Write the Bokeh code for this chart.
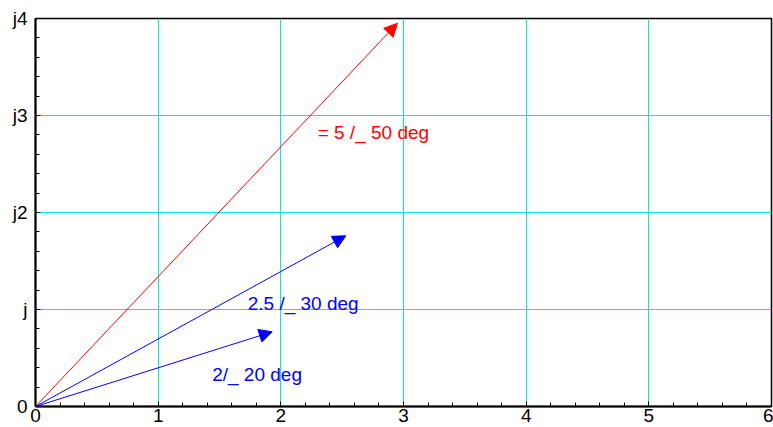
from bokeh.plotting import figure
from bokeh.models import (Range1d, SingleIntervalTicker, Arrow, NormalHead,
                          ColumnDataSource, Label)
from bokeh.embed import file_html
from bokeh.resources import INLINE

tip_re = [2.95, 2.53, 1.93]
tip_im = [3.95, 1.76, 0.77]
colors = ["#ff0000", "#0000ff", "#0000ff"]

label_texts = ["= 5 /_ 50 deg", "2.5 /_ 30 deg", "2/_ 20 deg"]
label_x = [2.30, 1.73, 1.44]
label_y = [2.82, 1.06, 0.33]

x_ticks = [0, 1, 2, 3, 4, 5, 6]
y_ticks = [0, 1, 2, 3, 4]
y_tick_labels = ["0", "j", "j2", "j3", "j4"]

FONT = "Liberation Sans"

p = figure(width=773, height=427, output_backend="svg", toolbar_location=None,
           x_range=Range1d(0, 6), y_range=Range1d(0, 4),
           min_border_left=35, min_border_right=2, min_border_top=18,
           min_border_bottom=21)
p.background_fill_color = "white"
p.border_fill_color = "white"
p.outline_line_color = "black"
p.outline_line_width = 1.5

for ax in (p.xaxis[0], p.yaxis[0]):
    ax.ticker = SingleIntervalTicker(interval=1, num_minor_ticks=5)
    ax.axis_line_color = "black"
    ax.axis_line_width = 2
    ax.major_tick_in = 5
    ax.major_tick_out = 0
    ax.minor_tick_in = 4
    ax.minor_tick_out = 0
    ax.major_tick_line_color = "black"
    ax.minor_tick_line_color = "black"
    ax.major_label_text_font = FONT
    ax.major_label_text_font_size = "19px"
    ax.major_label_text_color = "black"

p.xaxis.major_label_standoff = 2
p.yaxis.major_label_standoff = 8
p.yaxis.major_label_overrides = {t: l for t, l in zip(y_ticks, y_tick_labels)}

p.xgrid.grid_line_color = "#00e8ee"
p.ygrid.grid_line_color = "#00e8ee"
p.xgrid.grid_line_width = 1
p.ygrid.grid_line_width = 1

for re_, im_, c in zip(tip_re, tip_im, colors):
    src = ColumnDataSource(dict(x0=[0], y0=[0], x1=[re_], y1=[im_]))
    p.add_layout(Arrow(source=src, x_start="x0", y_start="y0", x_end="x1", y_end="y1",
                       line_color=c, line_width=1,
                       end=NormalHead(size=13, fill_color=c, line_color=c, line_width=1)))

for t, x, y, c in zip(label_texts, label_x, label_y, colors):
    p.add_layout(Label(x=x, y=y, text=t, text_color=c, text_font=FONT,
                       text_font_size="19px", text_baseline="middle",
                       text_align="left"))

open("out.html", "w").write(file_html(p, INLINE))
